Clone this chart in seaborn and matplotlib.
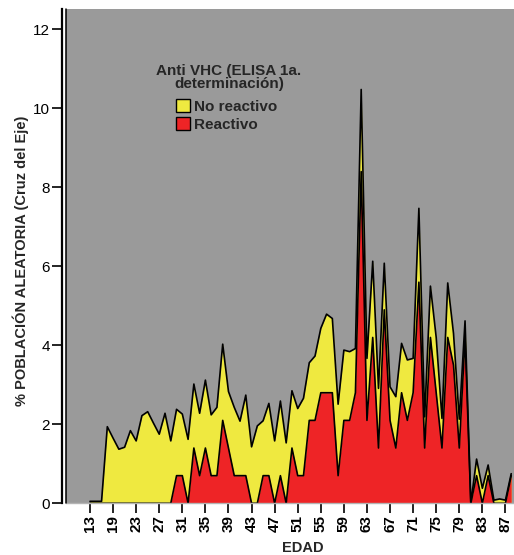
import numpy as np
import matplotlib
matplotlib.use("Agg")
import matplotlib.pyplot as plt
import seaborn as sns
from matplotlib.patches import Patch

# Age categories (x axis) and percentages per group, stacked
edad = [13, 15, 17] + list(range(18, 89))

reactivo = [
    0, 0, 0, 0, 0, 0, 0, 0, 0, 0,
    0, 0, 0, 0, 0, 0.7, 0.7, 0, 1.4, 0.7,
    1.4, 0.7, 0.7, 2.1, 1.4, 0.7, 0.7, 0.7, 0, 0,
    0.7, 0.7, 0, 0.7, 0, 1.4, 0.7, 0.7, 2.1, 2.1,
    2.8, 2.8, 2.8, 0.7, 2.1, 2.1, 2.8, 8.4, 2.1, 4.2,
    1.4, 4.9, 2.1, 1.4, 2.8, 2.1, 2.8, 5.6, 1.4, 4.2,
    2.8, 1.4, 4.2, 3.5, 1.4, 4.2, 0, 0.7, 0, 0.7,
    0, 0, 0, 0.7,
]

no_reactivo = [
    0.05, 0.05, 0.05, 1.94, 1.65, 1.37, 1.42, 1.84, 1.58, 2.22,
    2.32, 2.03, 1.75, 2.28, 1.58, 1.68, 1.56, 1.62, 1.62, 1.58,
    1.72, 1.54, 1.73, 1.93, 1.43, 1.73, 1.38, 2.04, 1.43, 1.96,
    1.39, 1.83, 1.58, 1.89, 1.53, 1.45, 1.70, 1.96, 1.46, 1.63,
    1.63, 1.99, 1.88, 1.81, 1.78, 1.74, 1.12, 2.08, 1.57, 1.93,
    1.51, 1.18, 0.85, 1.30, 1.25, 1.53, 0.87, 1.87, 0.79, 1.30,
    1.40, 0.75, 1.38, 0.80, 0.73, 0.42, 0, 0.42, 0.38, 0.27,
    0.08, 0.11, 0.08, 0.05,
]

yticks = [0, 2, 4, 6, 8, 10, 12]

YELLOW = "#efe940"
RED = "#ee2426"
BG = "#9a9a9a"

sns.set_theme(style="ticks")
plt.rcParams["font.family"] = ["Liberation Sans", "DejaVu Sans"]

W, H = 514, 555
fig = plt.figure(figsize=(W / 100, H / 100), dpi=100)
ax = fig.add_axes([66 / W, 1 - 503.3 / H, 1 - 66 / W, (503.3 - 9.3) / H])
ax.set_facecolor(BG)

x = np.arange(len(edad))
r = np.array(reactivo)
total = r + np.array(no_reactivo)

ax.fill_between(x, 0, total, color=YELLOW, lw=0)
ax.fill_between(x, 0, r, color=RED, lw=0)
sns.lineplot(x=x, y=total, estimator=None, color="black", lw=1.2, ax=ax)
sns.lineplot(x=x, y=r, estimator=None, color="black", lw=1.2, ax=ax)

step = 5.77
ax.set_xlim((66 - 90) / step, (514 - 90) / step)
ax.set_ylim(0, 12.51)

ax.set_yticks(yticks)
ax.set_yticklabels([str(v) for v in yticks], fontweight="bold")
ax.set_xticks(x[::4])
ax.set_xticklabels([str(edad[i]) for i in x[::4]], rotation=90, fontweight="bold")
ax.tick_params(axis="both", direction="out", length=7, width=1.2, color="black",
               labelsize=11, pad=1.5, labelcolor="black")

for s in ("top", "right"):
    ax.spines[s].set_visible(False)
ax.spines["left"].set_position(("outward", 3))
ax.spines["left"].set_linewidth(1.6)
ax.spines["left"].set_color("black")
ax.spines["bottom"].set_color("#b4b4b4")
ax.spines["bottom"].set_linewidth(1.0)
ax.plot([0, 0], [0, 1], transform=ax.transAxes, color="black", lw=1.1,
        clip_on=False, zorder=5)

ax.set_xlabel("")
ax.set_ylabel("")
fig.text(21 / W, 1 - 261 / H, "% POBLACIÓN ALEATORIA (Cruz del Eje)", rotation=90,
         ha="center", va="center", fontsize=10.5, fontweight="bold")
fig.text(302.5 / W, 1 - 548 / H, "EDAD", ha="center", va="center",
         fontsize=10.5, fontweight="bold")

# Legend: centred bold title, then the two swatches
fig.text(229 / W, 1 - 77.5 / H, "Anti VHC (ELISA 1a.\ndeterminación)",
         ha="center", va="center", multialignment="center", linespacing=0.85,
         fontsize=11, fontweight="bold")
handles = [
    Patch(facecolor=YELLOW, edgecolor="black", lw=1, label="No reactivo"),
    Patch(facecolor=RED, edgecolor="black", lw=1, label="Reactivo"),
]
leg = ax.legend(handles=handles, loc="upper left",
                bbox_to_anchor=(176 / W, 1 - 99.5 / H),
                bbox_transform=fig.transFigure, frameon=False, fontsize=11,
                handlelength=0.9, handleheight=0.9, handletextpad=0.3,
                labelspacing=0.2, borderpad=0, borderaxespad=0)
for t in leg.get_texts():
    t.set_fontweight("bold")

fig.savefig("out.png", dpi=100)
